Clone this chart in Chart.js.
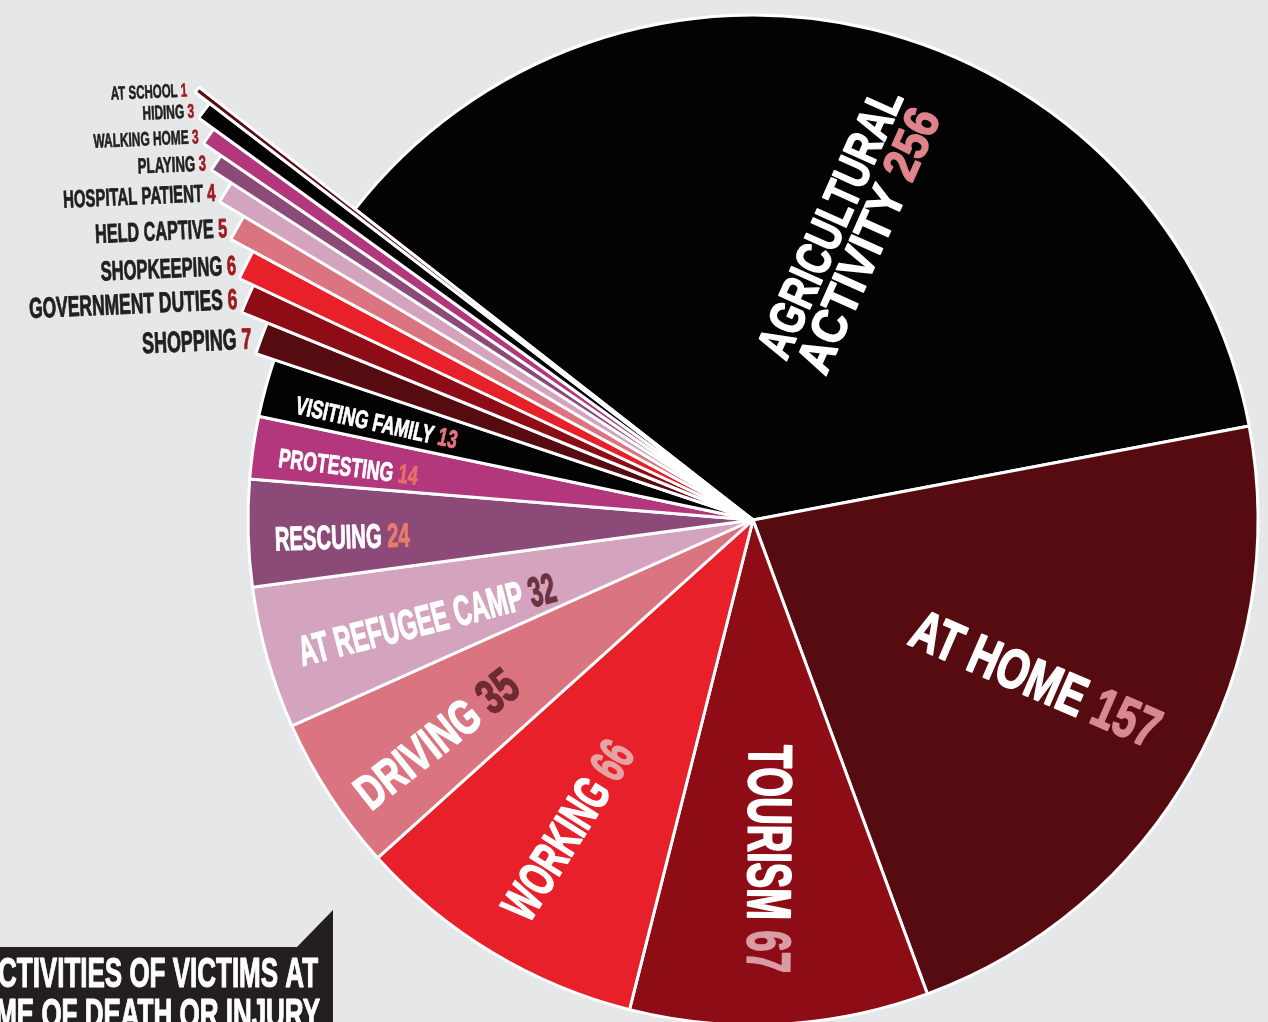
<!DOCTYPE html>
<html>
<head>
<meta charset="utf-8">
<script src="https://cdn.jsdelivr.net/npm/chart.js@4.4.1/dist/chart.umd.min.js"></script>
<style>
  html, body { margin: 0; padding: 0; background: #e6e7e8; }
  #wrap { width: 1268px; height: 1022px; overflow: hidden; }
  canvas { display: block; }
</style>
</head>
<body>
<div id="wrap"><canvas id="activity-chart" width="1268" height="1022"></canvas></div>
<script>
// Activities of victims at time of death or injury
const activities = ['AGRICULTURAL ACTIVITY', 'AT HOME', 'TOURISM', 'WORKING', 'DRIVING', 'AT REFUGEE CAMP',
    'RESCUING', 'PROTESTING', 'VISITING FAMILY', 'SHOPPING', 'GOVERNMENT DUTIES', 'SHOPKEEPING',
    'HELD CAPTIVE', 'HOSPITAL PATIENT', 'PLAYING', 'WALKING HOME', 'HIDING', 'AT SCHOOL'];
const victims = [256, 157, 67, 66, 35, 32, 24, 14, 13, 7, 6, 6, 5, 4, 3, 3, 3, 1];
const titleLines = ['ACTIVITIES OF VICTIMS AT', 'TIME OF DEATH OR INJURY'];

// colours repeat every eight slices
const palette = ['#030303', '#560b11', '#8e0c15', '#e8202a', '#da7480', '#d4a3bd', '#8b4a77', '#b2377d'];
const sliceColors = victims.map((v, i) => palette[i % palette.length]);

// how far the thin slices stick out past the pie (x radius)
const reach = [1, 1, 1, 1, 1, 1, 1, 1, 1, 1.038, 1.093, 1.124, 1.174, 1.23, 1.277, 1.319, 1.356, 1.392];
// cap height of the outside labels
const tipCap = [0, 0, 0, 0, 0, 0, 0, 0, 0, 21, 20.5, 19.5, 19, 17.5, 15.5, 14, 14, 13.5];

// labels drawn inside the slices
const innerLabels = {
    0: { wrap: true, r: 0.602, shift: 4.6, turn: 5.8, cap: 35, len: [289, 284], gap: 42, num: '#e0848c' },
    1: { r: 0.642, shift: -0.4, turn: -5.8, cap: 40, len: [266], num: '#d9888f' },
    2: { r: 0.672, shift: 0.1, turn: 3.4, cap: 44, len: [228], num: '#d99ca2' },
    3: { r: 0.715, shift: -0.1, turn: 1.2, cap: 36, len: [201], num: '#e6a3a5' },
    4: { r: 0.762, shift: -1.5, turn: -3.7, cap: 35, len: [193], num: '#6e2b33' },
    5: { r: 0.675, shift: -1.0, turn: 2.5, cap: 30, len: [264], num: '#6b3440' },
    6: { r: 0.814, shift: -0.8, turn: 0.5, cap: 24, len: [135], num: '#ea7b6c' },
    7: { r: 0.808, shift: -0.7, turn: -0.2, cap: 19, len: [140], num: '#e4706a' },
    8: { r: 0.770, shift: -0.6, turn: -2.3, cap: 18, len: [165], num: '#e8747c' }
};

const FONT = '"Liberation Sans", Arial, sans-serif';
const CAP_RATIO = 0.716;
const rad = d => d * Math.PI / 180;

// draws coloured text pieces on one line, squeezed to len (or by sx)
// align: 'center' puts the middle at 0, 'right' ends at 0
function drawParts(ctx, parts, cap, len, sx, align) {
    ctx.font = 'bold ' + (cap / CAP_RATIO).toFixed(2) + 'px ' + FONT;
    let w = 0;
    parts.forEach(p => { w += ctx.measureText(p[0]).width; });
    const k = len ? len / w : sx;
    ctx.save();
    ctx.scale(k, 1);
    let x = align === 'right' ? -w : -w / 2;
    ctx.textAlign = 'left';
    ctx.textBaseline = 'alphabetic';
    ctx.lineJoin = 'round';
    ctx.lineWidth = cap * 0.045;
    parts.forEach(p => {
        ctx.fillStyle = p[1];
        ctx.strokeStyle = p[1];
        ctx.fillText(p[0], x, cap / 2);
        ctx.strokeText(p[0], x, cap / 2);
        x += ctx.measureText(p[0]).width;
    });
    ctx.restore();
}

const paintBackground = {
    id: 'paintBackground',
    beforeDraw(chart) {
        const ctx = chart.ctx;
        ctx.save();
        ctx.fillStyle = '#e6e7e8';
        ctx.fillRect(0, 0, chart.width, chart.height);
        ctx.restore();
    }
};

const stripReach = {
    id: 'stripReach',
    afterDatasetsUpdate(chart) {
        const meta = chart.getDatasetMeta(0);
        const base = meta.controller.outerRadius;
        meta.data.forEach((arc, i) => { arc.outerRadius = base * reach[i]; });
    }
};

const sliceLabels = {
    id: 'sliceLabels',
    afterDatasetsDraw(chart) {
        const ctx = chart.ctx;
        const meta = chart.getDatasetMeta(0);
        const base = meta.controller.outerRadius;
        meta.data.forEach((arc, i) => {
            const mid = (arc.startAngle + arc.endAngle) / 2;
            const cfg = innerLabels[i];
            ctx.save();
            if (cfg) {
                const a = mid + rad(cfg.shift);
                const r = cfg.r * base;
                ctx.translate(arc.x + r * Math.cos(a), arc.y + r * Math.sin(a));
                let deg = a * 180 / Math.PI;
                deg = ((deg % 360) + 360) % 360;
                const inward = deg > 90 && deg < 270;
                ctx.rotate(a + (inward ? Math.PI : 0) + rad(cfg.turn));
                const lines = cfg.wrap ? activities[i].split(' ') : [activities[i]];
                const gap = cfg.gap || 0;
                lines.forEach((line, k) => {
                    const parts = [[line, '#ffffff']];
                    if (k === lines.length - 1) parts.push([' ' + victims[i], cfg.num]);
                    ctx.save();
                    ctx.translate(0, (k - (lines.length - 1) / 2) * gap);
                    drawParts(ctx, parts, cfg.cap, cfg.len[k], 0, 'center');
                    ctx.restore();
                });
            } else {
                const tx = arc.x + arc.outerRadius * Math.cos(mid);
                const ty = arc.y + arc.outerRadius * Math.sin(mid);
                ctx.translate(tx - 10, ty);
                ctx.rotate(rad(-2.5));
                drawParts(ctx, [[activities[i], '#231f20'], [' ' + victims[i], '#9e1b22']],
                    tipCap[i], 0, 0.61, 'right');
            }
            ctx.restore();
        });
    }
};

const titleBox = {
    id: 'titleBox',
    afterDraw(chart) {
        const ctx = chart.ctx;
        ctx.save();
        ctx.fillStyle = '#231f20';
        ctx.fillRect(0, 947, 333, 75);
        ctx.beginPath();
        ctx.moveTo(297, 947);
        ctx.lineTo(333, 910);
        ctx.lineTo(333, 947);
        ctx.closePath();
        ctx.fill();
        // squeeze so the visible part of line one fills the box
        ctx.font = 'bold ' + (31 / CAP_RATIO).toFixed(2) + 'px ' + FONT;
        const k = 320 / ctx.measureText(titleLines[0].slice(1)).width;
        ctx.fillStyle = '#ffffff';
        ctx.strokeStyle = '#ffffff';
        ctx.lineWidth = 1.2;
        ctx.lineJoin = 'round';
        ctx.textAlign = 'right';
        ctx.textBaseline = 'alphabetic';
        [[318, 987], [320, 1028]].forEach((pos, n) => {
            ctx.save();
            ctx.translate(pos[0], pos[1]);
            ctx.scale(k, 1);
            ctx.fillText(titleLines[n], 0, 0);
            ctx.strokeText(titleLines[n], 0, 0);
            ctx.restore();
        });
        ctx.restore();
    }
};

new Chart(document.getElementById('activity-chart'), {
    type: 'pie',
    data: {
        labels: activities,
        datasets: [{
            data: victims,
            backgroundColor: sliceColors,
            borderColor: '#ffffff',
            borderWidth: c => c.dataIndex > 8 ? 3 : 3,
            radius: 505,
            clip: false
        }]
    },
    options: {
        responsive: false,
        animation: false,
        rotation: 308,
        layout: { padding: { left: 238, right: 0, top: 18, bottom: 0 } },
        plugins: {
            legend: { display: false },
            tooltip: { enabled: false }
        }
    },
    plugins: [paintBackground, stripReach, sliceLabels, titleBox]
});
</script>
</body>
</html>
